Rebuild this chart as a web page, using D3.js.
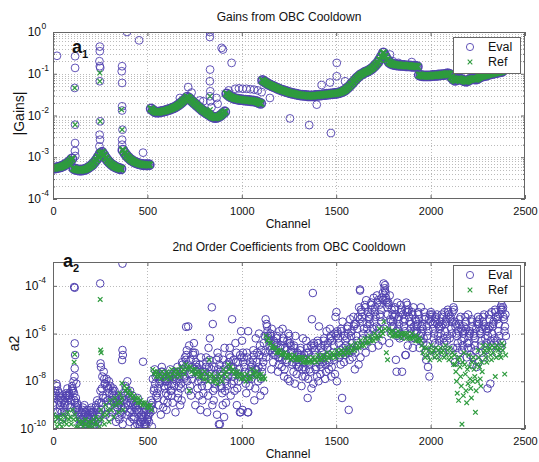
<!DOCTYPE html>
<html>
<head>
<meta charset="utf-8">
<script src="https://cdn.jsdelivr.net/npm/d3@7"></script>
<style>
body { margin: 0; background: #fff; }
text { font-family: "Liberation Sans", Arial, sans-serif; fill: #111; }
</style>
</head>
<body>
<div id="chart"></div>
<script>
// ---- top panel: |Gains| (log10), one value every 10 channels from channel 0 ----
var gainStep = 10;
var gainCurve = [
  -3.26,-3.26,-3.25,-3.24,-3.23,-3.21,-3.19,-3.16,-3.13,-3.09,-3.04,
  -3.27,-3.29,-3.30,-3.31,-3.31,-3.30,-3.29,-3.27,-3.24,-3.21,-3.17,-3.12,-3.06,-2.99,-2.91,
  -2.88,-2.95,-3.02,-3.08,-3.13,-3.17,-3.20,-3.23,-3.25,-3.27,-3.28,
  -2.83,-2.90,-2.96,-3.01,-3.05,-3.08,-3.11,-3.13,-3.15,-3.16,-3.17,-3.18,-3.18,-3.18,-3.18,
  -1.84,-1.88,-1.91,-1.92,-1.92,-1.91,-1.90,-1.89,-1.88,-1.86,-1.85,-1.83,-1.81,-1.79,-1.76,-1.73,-1.69,-1.65,-1.61,-1.56,
  -1.58,-1.63,-1.67,-1.71,-1.75,-1.79,-1.83,-1.87,-1.90,-1.93,-1.96,-1.99,-2.02,-2.04,-2.05,-2.04,-2.02,-1.99,-1.95,-1.91,
  -1.48,-1.52,-1.55,-1.57,-1.59,-1.60,-1.61,-1.62,-1.62,-1.63,-1.63,-1.64,-1.64,-1.65,-1.65,-1.66,-1.67,-1.69,-1.71,
  -1.16,-1.19,-1.22,-1.25,-1.27,-1.29,-1.31,-1.33,-1.35,-1.37,-1.39,-1.40,-1.42,-1.43,-1.45,-1.46,-1.47,-1.48,-1.49,-1.50,
  -1.51,-1.51,-1.52,-1.52,-1.53,-1.53,-1.53,-1.53,-1.52,-1.52,-1.51,-1.51,-1.50,-1.50,-1.49,-1.49,-1.48,-1.48,-1.47,-1.47,
  -1.46,-1.45,-1.43,-1.41,-1.38,-1.34,-1.30,-1.25,-1.20,-1.15,-1.10,-1.06,-1.02,-1.00,-0.97,-0.95,-0.93,-0.90,-0.87,-0.83,
  -0.78,-0.73,-0.66,-0.58,-0.50,
  -0.58,-0.66,-0.72,-0.75,-0.77,-0.78,-0.79,-0.79,-0.80,-0.80,-0.80,-0.81,-0.81,-0.81,-0.82,-0.82,-0.82,-0.83,
  -1.03,-1.04,-1.05,-1.05,-1.05,-1.05,-1.05,-1.04,-1.04,-1.04,-1.03,-1.03,-1.02,-1.02,-1.01,-1.00,-1.01,-1.08,-1.13,-1.16,
  -1.14,-1.12,-1.13,-1.15,-1.17,-1.18,-1.16,-1.13,-1.12,-1.12,-1.13,-1.11,-1.08,-1.06,-1.05,-1.04,-1.03,-1.01,-1.00,-0.99,
  -0.98,-0.97,-0.96,-0.95,-0.94
];
// [channel, log10 value]
var gainEvalOut = [
  [21,-0.57],[117,-0.58],[117,-0.86],[115,-1.34],[117,-2.22],[117,-2.66],[116,-2.85],[118,-2.97],
  [248,-0.35],[248,-0.46],[246,-0.70],[248,-0.82],[250,-0.86],[248,-1.18],[250,-2.14],[247,-2.46],[249,-2.58],[246,-2.74],
  [366,-0.82],[364,-0.94],[366,-1.22],[366,-1.78],[366,-1.88],[368,-2.34],[366,-2.58],[366,-2.70],
  [392,0.0],[456,-0.20],[477,-2.89],
  [672,-1.58],[716,-1.32],[734,-1.45],[778,-1.64],[796,-1.66],
  [831,0.0],[831,-0.12],[832,-0.90],[831,-1.18],[833,-1.42],[831,-1.54],[833,-1.66],[840,-1.80],
  [866,-1.58],[872,-1.72],[893,-0.38],[900,-0.42],[946,-0.74],
  [930,-1.40],[965,-1.36],[985,-1.35],[1005,-1.36],[1025,-1.36],[1045,-1.37],[1065,-1.38],[1085,-1.40],[1105,-1.44],
  [1149,-1.58],[1255,-2.07],[1357,-2.23],[1472,-2.42],[1503,-0.74],[1503,-1.06],[1397,-1.74],[1423,-1.27],
  [1467,-1.21],[1547,-1.18],[1785,-0.54],[1800,-0.70],[1830,-0.74],[1900,-0.72]
];
var gainRefOut = [
  [115,-1.34],[117,-2.22],[248,-0.98],[248,-1.18],[250,-2.14],[363,-1.86],[366,-2.34],[831,-1.54],[833,-1.86]
];

// ---- bottom panel: a2 (log10), bins of 25 channels from channel 0 ----
var a2Bin = 25;
var a2Eval = [
  "-8.4 -9.0 -8.1 -8.7 -9.3 -8.5 -8.9 -8.2 -9.5 -8.6", "-8.9 -8.5 -9.2 -8.4 -8.7 -9.6 -8.6 -9.0 -8.8 -9.3",
  "-9.0 -8.6 -8.8 -9.3 -8.5 -9.1 -8.7 -9.5 -8.9 -8.6", "-8.6 -9.1 -8.3 -8.8 -8.5 -9.0 -8.4 -8.7 -9.3 -8.6",
  "-8.3 -8.7 -8.0 -8.9 -8.2 -8.5 -9.2 -8.4 -8.1 -8.8", "-9.2 -8.9 -9.5 -9.0 -9.7 -9.3 -9.1 -9.6 -9.4 -9.8",
  "-9.4 -9.1 -9.7 -9.3 -9.0 -9.8 -9.2 -9.5 -9.6 -9.3", "-9.5 -9.3 -9.8 -9.4 -9.9 -9.2 -9.6 -9.7 -9.5 -9.4",
  "-9.3 -9.6 -9.2 -9.8 -9.4 -9.1 -9.7 -9.5 -9.9 -9.3", "-9.0 -9.3 -8.8 -9.5 -9.1 -9.6 -8.9 -9.2 -9.4 -9.7",
  "-7.8 -8.4 -7.6 -8.9 -8.1 -8.6 -9.2 -7.9 -8.3 -8.7", "-8.3 -7.9 -8.8 -8.1 -9.1 -8.5 -9.4 -8.2 -8.7 -8.0",
  "-8.5 -8.9 -8.2 -9.3 -8.6 -9.0 -8.4 -9.5 -8.8 -8.3", "-8.7 -9.1 -8.4 -9.5 -8.9 -9.2 -8.6 -9.7 -9.0 -8.8",
  "-8.9 -8.5 -9.3 -8.7 -9.6 -9.0 -9.8 -8.8 -9.2 -9.4", "-8.3 -8.8 -8.0 -9.1 -8.5 -9.4 -8.6 -9.0 -8.2 -8.9",
  "-8.8 -8.4 -9.2 -8.7 -9.5 -9.0 -9.7 -8.9 -9.3 -8.6", "-9.1 -8.7 -9.5 -9.0 -9.8 -9.3 -8.9 -9.6 -9.9 -9.2",
  "-9.3 -9.7 -9.0 -9.5 -9.9 -9.2 -9.6 -9.8 -9.4 -9.7", "-9.5 -9.2 -9.8 -9.4 -9.0 -9.7 -9.9 -9.3 -9.6 -9.8",
  "-9.2 -9.6 -8.8 -9.4 -9.9 -9.1 -9.5 -9.0 -9.7 -9.3", "-7.8 -8.4 -7.5 -8.9 -8.1 -7.7 -9.2 -8.3 -7.9 -8.6",
  "-8.1 -7.6 -8.7 -7.9 -9.4 -8.3 -7.8 -8.5 -9.0 -8.0", "-7.7 -8.3 -7.4 -8.0 -8.8 -7.6 -8.5 -9.1 -7.9 -8.2",
  "-8.0 -7.5 -8.6 -7.8 -9.2 -8.2 -7.7 -8.9 -8.4 -7.9", "-7.7 -8.4 -7.6 -8.1 -9.3 -7.9 -8.6 -7.8 -8.9 -8.2",
  "-7.9 -7.4 -8.5 -7.7 -8.2 -9.0 -7.6 -8.7 -8.0 -7.8", "-7.5 -7.0 -8.1 -7.3 -7.8 -8.8 -7.6 -8.3 -7.2 -7.9",
  "-6.9 -5.7 -7.4 -6.5 -8.0 -7.1 -7.7 -6.7 -8.4 -7.3", "-7.1 -6.4 -7.7 -6.8 -8.2 -7.4 -6.9 -8.6 -7.5 -7.9",
  "-7.4 -6.8 -8.0 -7.2 -8.6 -7.6 -9.0 -7.8 -7.3 -8.3", "-7.6 -7.0 -8.2 -7.3 -8.8 -7.8 -9.2 -8.0 -7.5 -8.5",
  "-7.2 -6.6 -7.9 -7.0 -8.6 -7.6 -9.3 -7.8 -7.4 -8.2", "-6.2 -4.9 -7.4 -5.6 -7.9 -7.1 -8.4 -7.7 -9.0 -7.5",
  "-7.4 -6.8 -8.1 -7.1 -8.8 -7.7 -9.4 -8.3 -7.5 -8.0", "-7.6 -7.0 -8.3 -7.3 -9.0 -7.9 -9.8 -8.5 -7.7 -8.2",
  "-7.3 -6.6 -8.0 -7.1 -8.9 -7.8 -9.5 -8.4 -7.5 -8.2", "-7.0 -5.4 -7.5 -6.6 -8.1 -7.2 -8.6 -7.8 -6.9 -7.4",
  "-7.1 -6.4 -7.8 -6.8 -8.4 -7.4 -9.0 -8.0 -7.2 -7.6", "-7.2 -5.9 -7.7 -6.9 -8.3 -7.5 -9.3 -8.0 -7.0 -7.8",
  "-7.0 -6.3 -7.9 -6.8 -8.5 -7.4 -9.2 -8.1 -7.2 -7.6", "-7.2 -5.9 -7.6 -6.8 -8.2 -7.4 -9.3 -7.9 -7.0 -7.7",
  "-6.9 -6.2 -7.6 -6.7 -8.3 -7.3 -8.8 -7.9 -7.1 -7.5", "-6.8 -6.0 -7.5 -6.5 -8.0 -7.2 -8.6 -7.7 -6.9 -7.4",
  "-6.7 -6.1 -7.4 -6.4 -7.9 -7.0 -8.4 -7.6 -6.8 -7.2", "-5.9 -5.4 -6.3 -5.6 -6.7 -6.1 -7.0 -6.5 -5.7 -6.2",
  "-6.3 -5.8 -6.8 -6.0 -7.2 -6.4 -7.5 -6.6 -6.1 -6.9", "-6.4 -5.9 -6.9 -6.1 -7.3 -6.5 -7.6 -6.7 -6.2 -7.0",
  "-6.5 -5.8 -7.0 -6.2 -7.4 -6.6 -7.8 -6.8 -6.3 -7.1", "-6.6 -6.0 -7.1 -6.3 -7.5 -6.7 -7.9 -6.9 -6.4 -7.2",
  "-6.7 -6.1 -7.2 -6.4 -7.6 -6.8 -8.0 -7.0 -6.5 -7.3", "-6.8 -6.1 -7.3 -6.5 -7.7 -6.9 -8.1 -7.1 -6.6 -7.4",
  "-6.9 -6.2 -7.4 -6.6 -7.8 -7.0 -8.2 -7.2 -6.7 -7.5", "-6.9 -6.3 -7.4 -6.6 -7.8 -7.1 -8.7 -7.2 -6.8 -7.5",
  "-6.8 -5.4 -7.5 -6.5 -7.9 -7.0 -8.3 -7.3 -6.6 -7.6", "-6.7 -4.3 -7.4 -6.4 -7.8 -6.9 -8.1 -7.2 -6.5 -7.5",
  "-6.6 -5.7 -7.3 -6.3 -7.7 -6.8 -8.0 -7.1 -6.4 -7.4", "-6.5 -5.9 -7.2 -6.2 -7.6 -6.7 -7.9 -7.0 -6.3 -7.3",
  "-6.4 -5.8 -7.1 -6.1 -7.5 -6.6 -7.8 -6.9 -6.2 -7.2", "-6.3 -5.3 -7.0 -6.0 -7.4 -6.5 -7.7 -6.8 -6.1 -7.1",
  "-6.2 -5.1 -6.9 -5.9 -7.3 -6.4 -8.0 -6.7 -6.0 -7.0", "-6.1 -5.5 -6.8 -5.8 -7.2 -6.3 -8.7 -6.6 -5.9 -6.9",
  "-6.0 -5.4 -6.7 -5.7 -7.1 -6.2 -9.2 -6.5 -5.8 -6.8", "-5.9 -5.3 -6.6 -5.6 -7.0 -6.1 -7.5 -6.4 -5.7 -6.7",
  "-5.6 -4.9 -6.3 -5.3 -6.8 -5.8 -7.3 -6.1 -5.4 -6.5", "-5.3 -4.2 -6.0 -5.0 -6.5 -5.5 -7.0 -5.8 -5.1 -6.2",
  "-5.1 -4.6 -5.8 -4.8 -6.3 -5.3 -6.8 -5.6 -4.9 -6.0", "-5.0 -4.5 -5.6 -4.7 -6.1 -5.2 -6.6 -5.4 -4.8 -5.8",
  "-4.9 -4.4 -5.5 -4.6 -6.0 -5.1 -6.5 -5.3 -4.7 -5.7", "-4.8 -4.3 -5.3 -4.5 -5.8 -5.0 -6.3 -5.2 -4.6 -5.5",
  "-4.3 -3.9 -4.7 -4.1 -5.2 -4.5 -5.8 -4.9 -4.2 -4.6", "-5.0 -4.4 -5.5 -4.7 -6.0 -5.2 -6.4 -5.4 -4.8 -5.7",
  "-5.2 -4.7 -5.7 -4.9 -6.1 -5.3 -7.1 -5.5 -5.0 -5.9", "-5.3 -4.8 -5.8 -5.0 -6.2 -5.4 -7.6 -5.6 -5.1 -6.0",
  "-5.2 -4.7 -5.7 -5.0 -6.1 -5.4 -6.9 -5.5 -5.1 -5.9", "-5.3 -4.8 -5.8 -5.1 -6.2 -5.5 -6.5 -5.6 -5.0 -6.0",
  "-5.4 -4.9 -5.9 -5.1 -6.2 -5.5 -6.6 -5.7 -5.2 -6.0", "-5.4 -4.9 -5.9 -5.2 -6.3 -5.6 -6.6 -5.7 -5.1 -6.1",
  "-5.6 -5.1 -6.0 -5.3 -6.4 -5.7 -6.8 -5.8 -5.4 -6.2", "-5.7 -5.2 -6.1 -5.4 -7.1 -7.4 -7.8 -6.5 -5.5 -5.9",
  "-5.6 -5.1 -6.0 -5.3 -6.4 -5.8 -6.7 -5.5 -5.2 -6.2", "-5.7 -5.2 -6.1 -5.4 -6.5 -5.8 -6.9 -5.6 -5.3 -6.3",
  "-5.6 -5.1 -6.0 -5.3 -6.4 -5.7 -6.8 -5.5 -5.2 -6.2", "-5.5 -5.0 -5.9 -5.2 -6.3 -5.6 -6.7 -5.4 -5.1 -6.1",
  "-5.4 -4.9 -5.8 -5.1 -6.2 -5.5 -6.6 -5.3 -5.0 -6.0", "-6.0 -5.5 -6.4 -5.7 -6.8 -6.1 -7.2 -5.9 -5.6 -6.6",
  "-5.9 -5.3 -6.3 -5.6 -6.7 -6.0 -7.1 -5.8 -5.4 -6.5", "-5.8 -5.2 -6.2 -5.5 -6.6 -5.9 -7.0 -5.7 -5.3 -6.4",
  "-6.0 -5.4 -6.4 -5.7 -6.9 -6.1 -7.3 -5.9 -5.5 -6.6", "-6.1 -5.5 -6.5 -5.8 -7.0 -6.2 -7.4 -6.0 -5.6 -6.7",
  "-5.9 -5.3 -6.3 -5.6 -6.8 -6.0 -7.2 -5.8 -5.4 -6.5", "-5.8 -5.2 -6.2 -5.5 -6.7 -5.9 -7.0 -5.7 -5.3 -6.4",
  "-5.7 -5.1 -6.1 -5.4 -6.5 -5.8 -8.1 -8.3 -5.2 -6.3", "-5.6 -5.0 -6.0 -5.3 -6.4 -5.7 -6.8 -5.5 -5.1 -6.2",
  "-5.4 -4.9 -5.9 -5.2 -6.3 -5.6 -6.6 -5.3 -5.0 -6.1", "-5.3 -4.8 -5.7 -5.0 -6.1 -5.4 -6.4 -5.2 -4.9 -5.9"
];
var a2Ref = [
  "-9.4 -9.7 -9.5 -9.9", "-9.5 -9.8 -9.6 -9.9", "-9.4 -9.7 -9.5 -9.8", "-9.3 -9.6 -9.5 -9.8",
  "-9.2 -9.6 -9.4 -9.9", "-9.6 -9.9 -9.7 -9.8", "-9.7 -9.9 -9.8 -9.6", "-9.8 -9.9 -9.7 -9.9",
  "-9.7 -9.9 -9.6 -9.8", "-9.5 -9.8 -9.6 -9.9", "-9.2 -9.6 -9.4 -9.8", "-9.0 -9.4 -9.2 -9.7",
  "-8.8 -9.2 -9.0 -9.5", "-8.7 -9.0 -8.9 -9.3", "-8.5 -8.9 -8.7 -9.2", "-8.2 -8.4 -8.3 -8.5",
  "-8.4 -8.6 -8.5 -8.7", "-8.6 -8.8 -8.7 -8.9", "-8.7 -8.9 -8.8 -9.0", "-8.9 -9.0 -8.9 -9.1",
  "-9.0 -9.1 -9.0 -9.2", "-7.5 -7.7 -7.6 -7.8", "-7.6 -7.8 -7.7 -7.9", "-7.6 -7.8 -7.7 -7.9",
  "-7.6 -7.7 -7.8 -7.9", "-7.5 -7.7 -7.6 -7.8", "-7.5 -7.6 -7.7 -7.8", "-7.4 -7.6 -7.5 -7.7",
  "-7.3 -7.5 -7.4 -8.4", "-7.4 -7.6 -7.5 -7.7", "-7.5 -7.7 -7.6 -7.8", "-7.6 -7.8 -7.7 -7.9",
  "-7.6 -7.9 -7.7 -8.0", "-7.1 -7.8 -7.7 -8.0", "-7.8 -8.0 -7.9 -8.1", "-7.7 -7.9 -7.8 -8.0",
  "-7.5 -7.7 -7.6 -7.8", "-7.3 -7.5 -7.4 -7.6", "-7.5 -7.7 -7.6 -7.8", "-7.6 -7.8 -7.7 -7.9",
  "-7.7 -7.9 -7.8 -8.0", "-7.7 -7.9 -7.8 -7.9", "-7.5 -7.7 -7.6 -7.8", "-7.6 -7.8 -7.7 -7.9",
  "-7.7 -7.9 -7.8 -7.9", "-6.1 -6.3 -6.2 -6.4", "-6.4 -6.6 -6.5 -6.6", "-6.6 -6.8 -6.7 -6.8",
  "-6.7 -6.9 -6.8 -6.9", "-6.8 -7.0 -6.9 -7.0", "-6.9 -7.1 -7.0 -7.0", "-6.9 -7.1 -7.0 -7.1",
  "-7.0 -7.1 -7.0 -7.2", "-7.0 -7.2 -7.1 -7.2", "-7.0 -7.2 -7.1 -7.2", "-7.0 -7.1 -7.1 -7.2",
  "-6.9 -7.1 -7.0 -7.1", "-6.9 -7.0 -7.0 -7.1", "-6.8 -7.0 -6.9 -7.0", "-6.8 -6.9 -6.9 -7.0",
  "-6.7 -6.9 -6.8 -6.9", "-6.7 -6.8 -6.8 -6.9", "-6.6 -6.8 -6.7 -6.8", "-6.5 -6.7 -6.6 -6.7",
  "-6.4 -6.6 -6.5 -6.6", "-6.3 -6.5 -6.4 -6.5", "-6.2 -6.4 -6.3 -6.4", "-6.1 -6.3 -6.2 -6.3",
  "-6.0 -6.2 -6.1 -6.2", "-5.8 -6.1 -5.9 -6.0", "-5.5 -5.8 -6.8 -7.1", "-5.8 -6.0 -5.9 -6.1",
  "-5.9 -6.1 -6.0 -6.1", "-5.9 -6.1 -6.0 -6.2", "-6.0 -6.1 -6.0 -6.2", "-6.0 -6.2 -6.1 -6.2",
  "-6.0 -6.2 -6.1 -6.3", "-6.1 -6.3 -6.2 -6.3", "-6.5 -6.8 -6.6 -7.0", "-6.6 -6.9 -6.7 -7.1",
  "-6.5 -6.8 -6.7 -7.0", "-6.6 -6.9 -6.7 -7.1", "-6.6 -6.8 -6.7 -7.0", "-6.5 -6.9 -6.7 -7.1",
  "-6.6 -7.0 -6.8 -7.3", "-6.9 -7.3 -7.6 -8.0 -8.5 -7.1 -8.8", "-7.0 -7.4 -7.8 -8.2 -9.8 -7.2 -8.6",
  "-6.8 -7.3 -7.7 -8.4 -8.9 -7.5 -8.1", "-6.9 -7.4 -7.9 -8.3 -8.7 -7.2 -8.0",
  "-7.0 -7.5 -7.8 -9.3 -8.4 -7.3 -8.0", "-6.7 -7.0 -7.4 -7.9 -8.2 -7.2 -7.6",
  "-6.5 -6.8 -6.7 -7.0 -7.2", "-6.5 -6.7 -6.6 -6.9 -7.1", "-6.5 -6.8 -6.6 -7.8 -7.0",
  "-6.5 -6.7 -6.6 -6.9 -7.0", "-6.4 -6.7 -6.5 -7.7 -6.9"
];
var a2EvalOut = [
  [112,-4.05],[115,-4.08],[115,-6.41],[117,-6.9],[115,-7.46],[114,-7.8],
  [250,-3.9],[252,-7.25],[254,-7.4],[368,-3.07],[368,-6.69],[370,-6.9],[366,-7.11],[477,-7.18],
  [705,-5.72],[884,-9.8],[990,-9.3],[1034,-9.3],[1626,-4.15],[1759,-3.97],[1820,-7.6],[1866,-6.9]
];
var a2RefOut = [[115,-6.87],[112,-7.2],[250,-4.57],[252,-6.69],[255,-6.8],[365,-8.08]];

var xTicks = [0, 500, 1000, 1500, 2000, 2500];
var evalColor = '#5142b0', refColor = '#2e9b3e';

// where, inside a 25-channel bin, the n-th listed value sits (slot of 10)
var slotOrders = [
  [4,0,7,2,9,5,1,8,3,6], [2,6,0,8,4,1,9,3,7,5], [7,3,5,0,6,9,2,4,1,8],
  [1,8,3,6,0,4,7,2,9,5], [5,9,1,4,8,2,6,0,3,7]
];
var slotCycle = [0, 2, 4, 1, 3];

var svg = d3.select('#chart').append('svg')
    .attr('width', 539).attr('height', 462);

var x = d3.scaleLinear().domain([0, 2500]).range([53, 525]);

function binned(rows, w) {
  var pts = [];
  rows.forEach(function(s, i) {
    var vs = s.split(' ').map(Number);
    var ord = slotOrders[slotCycle[i % 5]];
    vs.forEach(function(v, j) {
      var slot = vs.length === 10 ? ord[j] : j;
      pts.push([i * w + (slot + 0.5) * w / vs.length, v]);
    });
  });
  return pts;
}

function curvePts(vals, step) {
  return vals.map(function(v, i) { return [i * step, v, 1]; });
}

var panels = [
  { key: 'g', top: 32, bottom: 199, domain: [1e-4, 1], exps: [0, -1, -2, -3, -4], minorGrid: true,
    title: 'Gains from OBC Cooldown', ylab: '|Gains|', ylabX: 19, sub: '1', tagX: 72, tagY: 53,
    r: 3.9, sw: 0.9, cx: 2.4, csw: 1.2,
    evalPts: curvePts(gainCurve, gainStep).concat(gainEvalOut),
    refPts: curvePts(gainCurve, gainStep).concat(gainRefOut),
    legTop: 37 },
  { key: 'a', top: 262, bottom: 429, domain: [1e-10, 1e-3], exps: [-4, -6, -8, -10], minorGrid: false,
    title: '2nd Order Coefficients from OBC Cooldown', ylab: 'a2', ylabX: 14, sub: '2', tagX: 63, tagY: 267,
    r: 3.8, sw: 1.0, cx: 2.3, csw: 1.2,
    evalPts: binned(a2Eval, a2Bin).concat(a2EvalOut),
    refPts: binned(a2Ref, a2Bin).concat(a2RefOut),
    legTop: 265 }
];

panels.forEach(function(p) {
  var y = d3.scaleLog().domain(p.domain).range([p.bottom, p.top]);
  var g = svg.append('g');
  var L = x.range()[0], R = x.range()[1];
  function crossPath(s) {
    return 'M-' + s + ',-' + s + 'L' + s + ',' + s + 'M-' + s + ',' + s + 'L' + s + ',-' + s;
  }

  // grid
  var yGrid = [];
  if (p.minorGrid) {
    for (var e = -4; e < 0; e++) for (var m = 1; m < 10; m++) { if (m > 1 || e > -4) yGrid.push(m * Math.pow(10, e)); }
  } else {
    yGrid = p.exps.filter(function(e) { return e > -10; }).map(function(e) { return Math.pow(10, e); });
  }
  g.selectAll('.hg').data(yGrid).enter().append('line')
    .attr('x1', L).attr('x2', R)
    .attr('y1', function(d) { return Math.round(y(d)) + 0.5; })
    .attr('y2', function(d) { return Math.round(y(d)) + 0.5; })
    .attr('stroke', '#aaa').attr('stroke-width', 0.8).attr('stroke-dasharray', '1,2');
  g.selectAll('.vg').data(xTicks.slice(1, -1)).enter().append('line')
    .attr('x1', function(d) { return Math.round(x(d)) + 0.5; })
    .attr('x2', function(d) { return Math.round(x(d)) + 0.5; })
    .attr('y1', p.top).attr('y2', p.bottom)
    .attr('stroke', '#aaa').attr('stroke-width', 0.8).attr('stroke-dasharray', '1,2');

  // data (dense per-channel runs drawn a bit heavier, like the overlapping markers in the original)
  var clipId = 'clip' + p.key;
  svg.append('clipPath').attr('id', clipId).append('rect')
    .attr('x', L).attr('y', p.top).attr('width', R - L).attr('height', p.bottom - p.top);
  var dg = g.append('g').attr('clip-path', 'url(#' + clipId + ')');
  dg.selectAll('circle').data(p.evalPts).enter().append('circle')
    .attr('cx', function(d) { return x(d[0]); })
    .attr('cy', function(d) { return y(Math.pow(10, d[1])); })
    .attr('r', function(d) { return d[2] ? 4.6 : p.r; })
    .attr('fill', 'none').attr('stroke', evalColor)
    .attr('stroke-width', function(d) { return d[2] ? 1.6 : p.sw; });
  dg.selectAll('path.ref').data(p.refPts).enter().append('path').attr('class', 'ref')
    .attr('d', function(d) { return crossPath(d[2] ? 3.2 : p.cx); })
    .attr('transform', function(d) { return 'translate(' + x(d[0]) + ',' + y(Math.pow(10, d[1])) + ')'; })
    .attr('stroke', refColor)
    .attr('stroke-width', function(d) { return d[2] ? 2.4 : p.csw; });

  // axes (inward ticks)
  g.append('g').attr('transform', 'translate(0,' + p.bottom + ')')
    .call(d3.axisBottom(x).tickValues(xTicks).tickSize(-4).tickPadding(8).tickFormat(d3.format('d')));
  g.append('g').attr('transform', 'translate(0,' + p.top + ')')
    .call(d3.axisTop(x).tickValues(xTicks).tickSize(-4).tickFormat(''));
  var majors = p.exps.map(function(e) { return Math.pow(10, e); });
  g.append('g').attr('transform', 'translate(' + L + ',0)')
    .call(d3.axisLeft(y).tickValues(majors).tickSize(-4).tickFormat(''));
  g.append('g').attr('transform', 'translate(' + R + ',0)')
    .call(d3.axisRight(y).tickValues(majors).tickSize(-4).tickFormat(''));
  if (p.minorGrid) {
    var minors = yGrid.filter(function(d) { return majors.indexOf(d) < 0; });
    g.append('g').attr('transform', 'translate(' + L + ',0)')
      .call(d3.axisLeft(y).tickValues(minors).tickSize(-2).tickFormat(''));
    g.append('g').attr('transform', 'translate(' + R + ',0)')
      .call(d3.axisRight(y).tickValues(minors).tickSize(-2).tickFormat(''));
  }
  g.selectAll('.domain').remove();
  g.selectAll('.tick line').attr('stroke', '#666');
  g.selectAll('.tick text').attr('font-size', 11).attr('fill', '#111')
    .attr('font-family', '"Liberation Sans", Arial, sans-serif');

  // y tick labels 10^n
  p.exps.forEach(function(e) {
    var yy = y(Math.pow(10, e));
    var t = g.append('text').attr('y', yy + 4).attr('font-size', 12);
    if (p.minorGrid) {
      t.attr('x', 41).attr('text-anchor', 'end').text('10');
      g.append('text').attr('x', 41.5).attr('y', yy - 3).attr('font-size', 8.5).text(e);
    } else {
      t.attr('x', 46).attr('text-anchor', 'end').text('10')
        .append('tspan').attr('dy', -7).attr('font-size', 8.5).text(e);
    }
  });

  // frame
  g.append('rect').attr('x', L + 0.5).attr('y', p.top + 0.5)
    .attr('width', R - L - 1).attr('height', p.bottom - p.top - 1)
    .attr('fill', 'none').attr('stroke', '#666').attr('stroke-width', 1);

  // titles and labels
  g.append('text').attr('x', (L + R) / 2).attr('y', p.top - 11).attr('text-anchor', 'middle')
    .attr('font-size', 12).text(p.title);
  g.append('text').attr('x', (L + R) / 2 - 1).attr('y', p.bottom + 29).attr('text-anchor', 'middle')
    .attr('font-size', 12).text('Channel');
  g.append('text').attr('transform', 'translate(' + (p.ylabX + 5) + ',' + ((p.top + p.bottom) / 2 - 2) + ') rotate(-90)')
    .attr('text-anchor', 'middle').attr('font-size', 14).text(p.ylab);
  var tag = g.append('text').attr('x', p.tagX).attr('y', p.tagY)
    .attr('font-size', 18).attr('font-weight', 'bold').text('a');
  tag.append('tspan').attr('dy', 5).attr('font-size', 11).text(p.sub);

  // legend
  var lg = g.append('g').attr('transform', 'translate(453,' + p.legTop + ')');
  lg.append('rect').attr('x', 0.5).attr('y', 0.5).attr('width', 67).attr('height', 36)
    .attr('fill', '#fff').attr('stroke', '#666');
  lg.append('circle').attr('cx', 17).attr('cy', 10).attr('r', 3.6)
    .attr('fill', 'none').attr('stroke', evalColor).attr('stroke-width', 0.9);
  lg.append('path').attr('d', crossPath(2.3))
    .attr('transform', 'translate(17,25)').attr('stroke', refColor).attr('stroke-width', 1.1);
  lg.append('text').attr('x', 35).attr('y', 14).attr('font-size', 12.5).text('Eval');
  lg.append('text').attr('x', 35).attr('y', 29).attr('font-size', 12.5).text('Ref');
});
</script>
</body>
</html>
